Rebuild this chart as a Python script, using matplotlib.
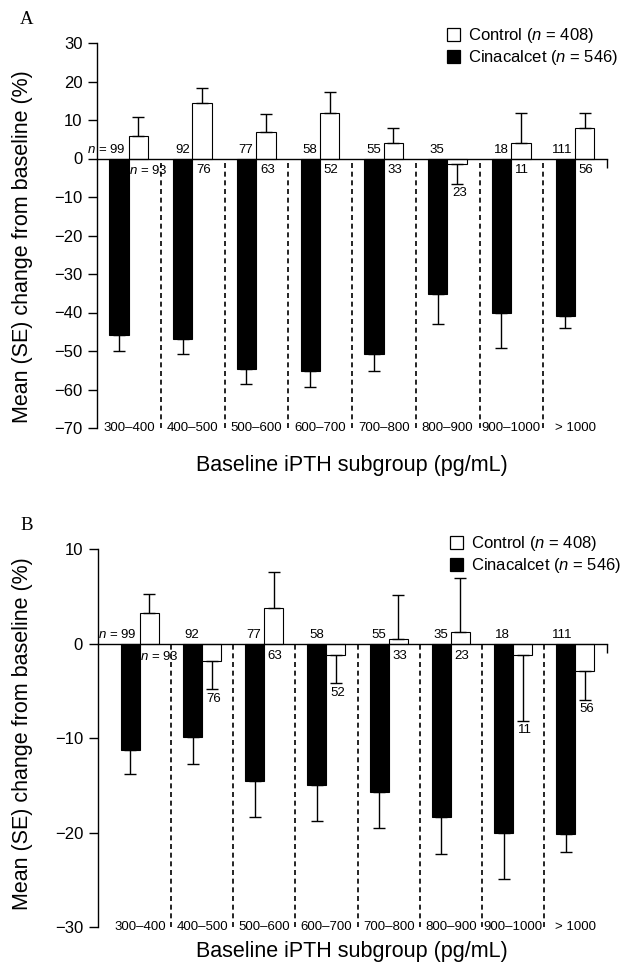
import matplotlib
matplotlib.use("Agg")
import matplotlib.pyplot as plt
from matplotlib.patches import Patch
import numpy as np

plt.rcParams['font.family'] = ['Liberation Sans', 'DejaVu Sans']
plt.rcParams['mathtext.fontset'] = 'custom'
plt.rcParams['mathtext.rm'] = 'Liberation Sans'
plt.rcParams['mathtext.it'] = 'Liberation Sans:italic'

categories = ['300–400', '400–500', '500–600', '600–700', '700–800',
              '800–900', '900–1000', '> 1000']
n_control = [93, 76, 63, 52, 33, 23, 11, 56]
n_cinacalcet = [99, 92, 77, 58, 55, 35, 18, 111]

# панель A
a_control = [5.8, 14.5, 6.9, 11.7, 3.9, -1.3, 3.9, 7.8]
a_control_se = [4.9, 3.7, 4.7, 5.7, 4.1, 5.3, 7.8, 3.9]
a_cina = [-45.8, -46.9, -54.6, -55.2, -50.9, -35.2, -40.1, -41.0]
a_cina_se = [4.2, 3.9, 3.9, 4.2, 4.4, 7.8, 9.0, 3.0]

# панель B
b_control = [3.3, -1.8, 3.75, -1.15, 0.5, 1.27, -1.2, -2.9]
b_control_se = [1.95, 3.0, 3.8, 3.05, 4.7, 5.73, 6.95, 3.06]
b_cina = [-11.3, -9.85, -14.5, -15.0, -15.7, -18.4, -20.0, -20.2]
b_cina_se = [2.5, 2.85, 3.8, 3.8, 3.8, 3.9, 4.9, 1.9]

W, H = 625, 968
fig = plt.figure(figsize=(W / 100, H / 100), dpi=100)


def one_sided(vals, se):
    vals = np.asarray(vals)
    se = np.asarray(se)
    lower = np.where(vals < 0, se, 0)
    upper = np.where(vals >= 0, se, 0)
    return [lower, upper]


def draw_panel(rect, control, control_se, cina, cina_se, ylim, yticks, xleft,
               letter, letter_y, legend_xy, ylabel_y, xlabel_y):
    ax = fig.add_axes(rect)
    ax.set_xlim(xleft, 8)
    ax.set_ylim(*ylim)
    x = np.arange(len(categories))
    bw = 0.305
    xb = x + 0.345
    xw = x + 0.65
    ax.bar(xb, cina, bw, color='black', edgecolor='black', linewidth=0.8, zorder=2)
    ax.bar(xw, control, bw, color='white', edgecolor='black', linewidth=0.8, zorder=2)
    ax.errorbar(xb, cina, yerr=one_sided(cina, cina_se), fmt='none', ecolor='black',
                elinewidth=1.0, capsize=4, capthick=1.0, zorder=3)
    ax.errorbar(xw, control, yerr=one_sided(control, control_se), fmt='none',
                ecolor='black', elinewidth=1.0, capsize=4, capthick=1.0, zorder=3)

    ax.vlines(x[1:], ylim[0], 0, colors='black', linestyles=(0, (3, 2.2)),
              linewidth=1.2, zorder=1)

    for i in range(len(categories)):
        ax.text(i + 0.5, ylim[0], categories[i], ha='center', va='center', fontsize=9.5)
        lab = str(n_cinacalcet[i]) if i else '$n$ = %d' % n_cinacalcet[i]
        ax.annotate(lab, xy=(xw[i] - bw / 2, 0), xytext=(-2, 4),
                    textcoords='offset points', ha='right', va='baseline', fontsize=9.5)
        lab = str(n_control[i]) if i else '$n$ = %d' % n_control[i]
        if control[i] >= 0:
            if i == 0:
                ax.annotate(lab, xy=(xw[i] - bw / 2, 0), xytext=(0, -4.3),
                            textcoords='offset points', ha='left', va='top', fontsize=9.5)
            else:
                ax.annotate(lab, xy=(xw[i], 0), xytext=(1, -4.3),
                            textcoords='offset points', ha='center', va='top', fontsize=9.5)
        else:
            ax.annotate(lab, xy=(xw[i], control[i] - control_se[i]), xytext=(1.5, -2.5),
                        textcoords='offset points', ha='center', va='top', fontsize=9.5)

    for s in ['top', 'right']:
        ax.spines[s].set_visible(False)
    ax.spines['bottom'].set_position(('data', 0))
    ax.spines['left'].set_linewidth(1.0)
    ax.spines['bottom'].set_linewidth(1.0)
    ax.set_xticks([8])
    ax.set_xticklabels([''])
    ax.set_yticks(yticks)
    ax.tick_params(axis='both', direction='out', length=6.5, width=1.0,
                   labelsize=12, pad=4)

    fig.text(27 / W, 1 - letter_y / H, letter, family='Liberation Serif',
             fontsize=13.5, ha='center', va='center')
    fig.text(23 / W, 1 - ylabel_y / H, 'Mean (SE) change from baseline (%)',
             rotation=90, ha='center', va='center', fontsize=15.5)
    fig.text(352 / W, 1 - xlabel_y / H, 'Baseline iPTH subgroup (pg/mL)',
             ha='center', va='center', fontsize=15.5)

    handles = [Patch(facecolor='white', edgecolor='black', linewidth=0.9),
               Patch(facecolor='black', edgecolor='black', linewidth=0.9)]
    ax.legend(handles, ['Control ($n$ = 408)', 'Cinacalcet ($n$ = 546)'],
              loc='upper left', bbox_to_anchor=(legend_xy[0] / W, 1 - legend_xy[1] / H),
              bbox_transform=fig.transFigure, frameon=False, fontsize=12,
              borderpad=0, borderaxespad=0, handlelength=0.8, handleheight=0.8,
              handletextpad=0.45, labelspacing=0.2)
    return ax


draw_panel([97 / W, 1 - 428 / H, 510 / W, 385 / H], a_control, a_control_se,
           a_cina, a_cina_se, (-70, 30), np.arange(-70, 31, 10), 0,
           'A', 19, (447, 26), 247, 466)
draw_panel([97.7 / W, 1 - 927 / H, 508.8 / W, 377.7 / H], b_control, b_control_se,
           b_cina, b_cina_se, (-30, 10), np.arange(-30, 11, 10), -0.18,
           'B', 525, (450, 534), 734, 952)

fig.savefig('out.png', dpi=100)
